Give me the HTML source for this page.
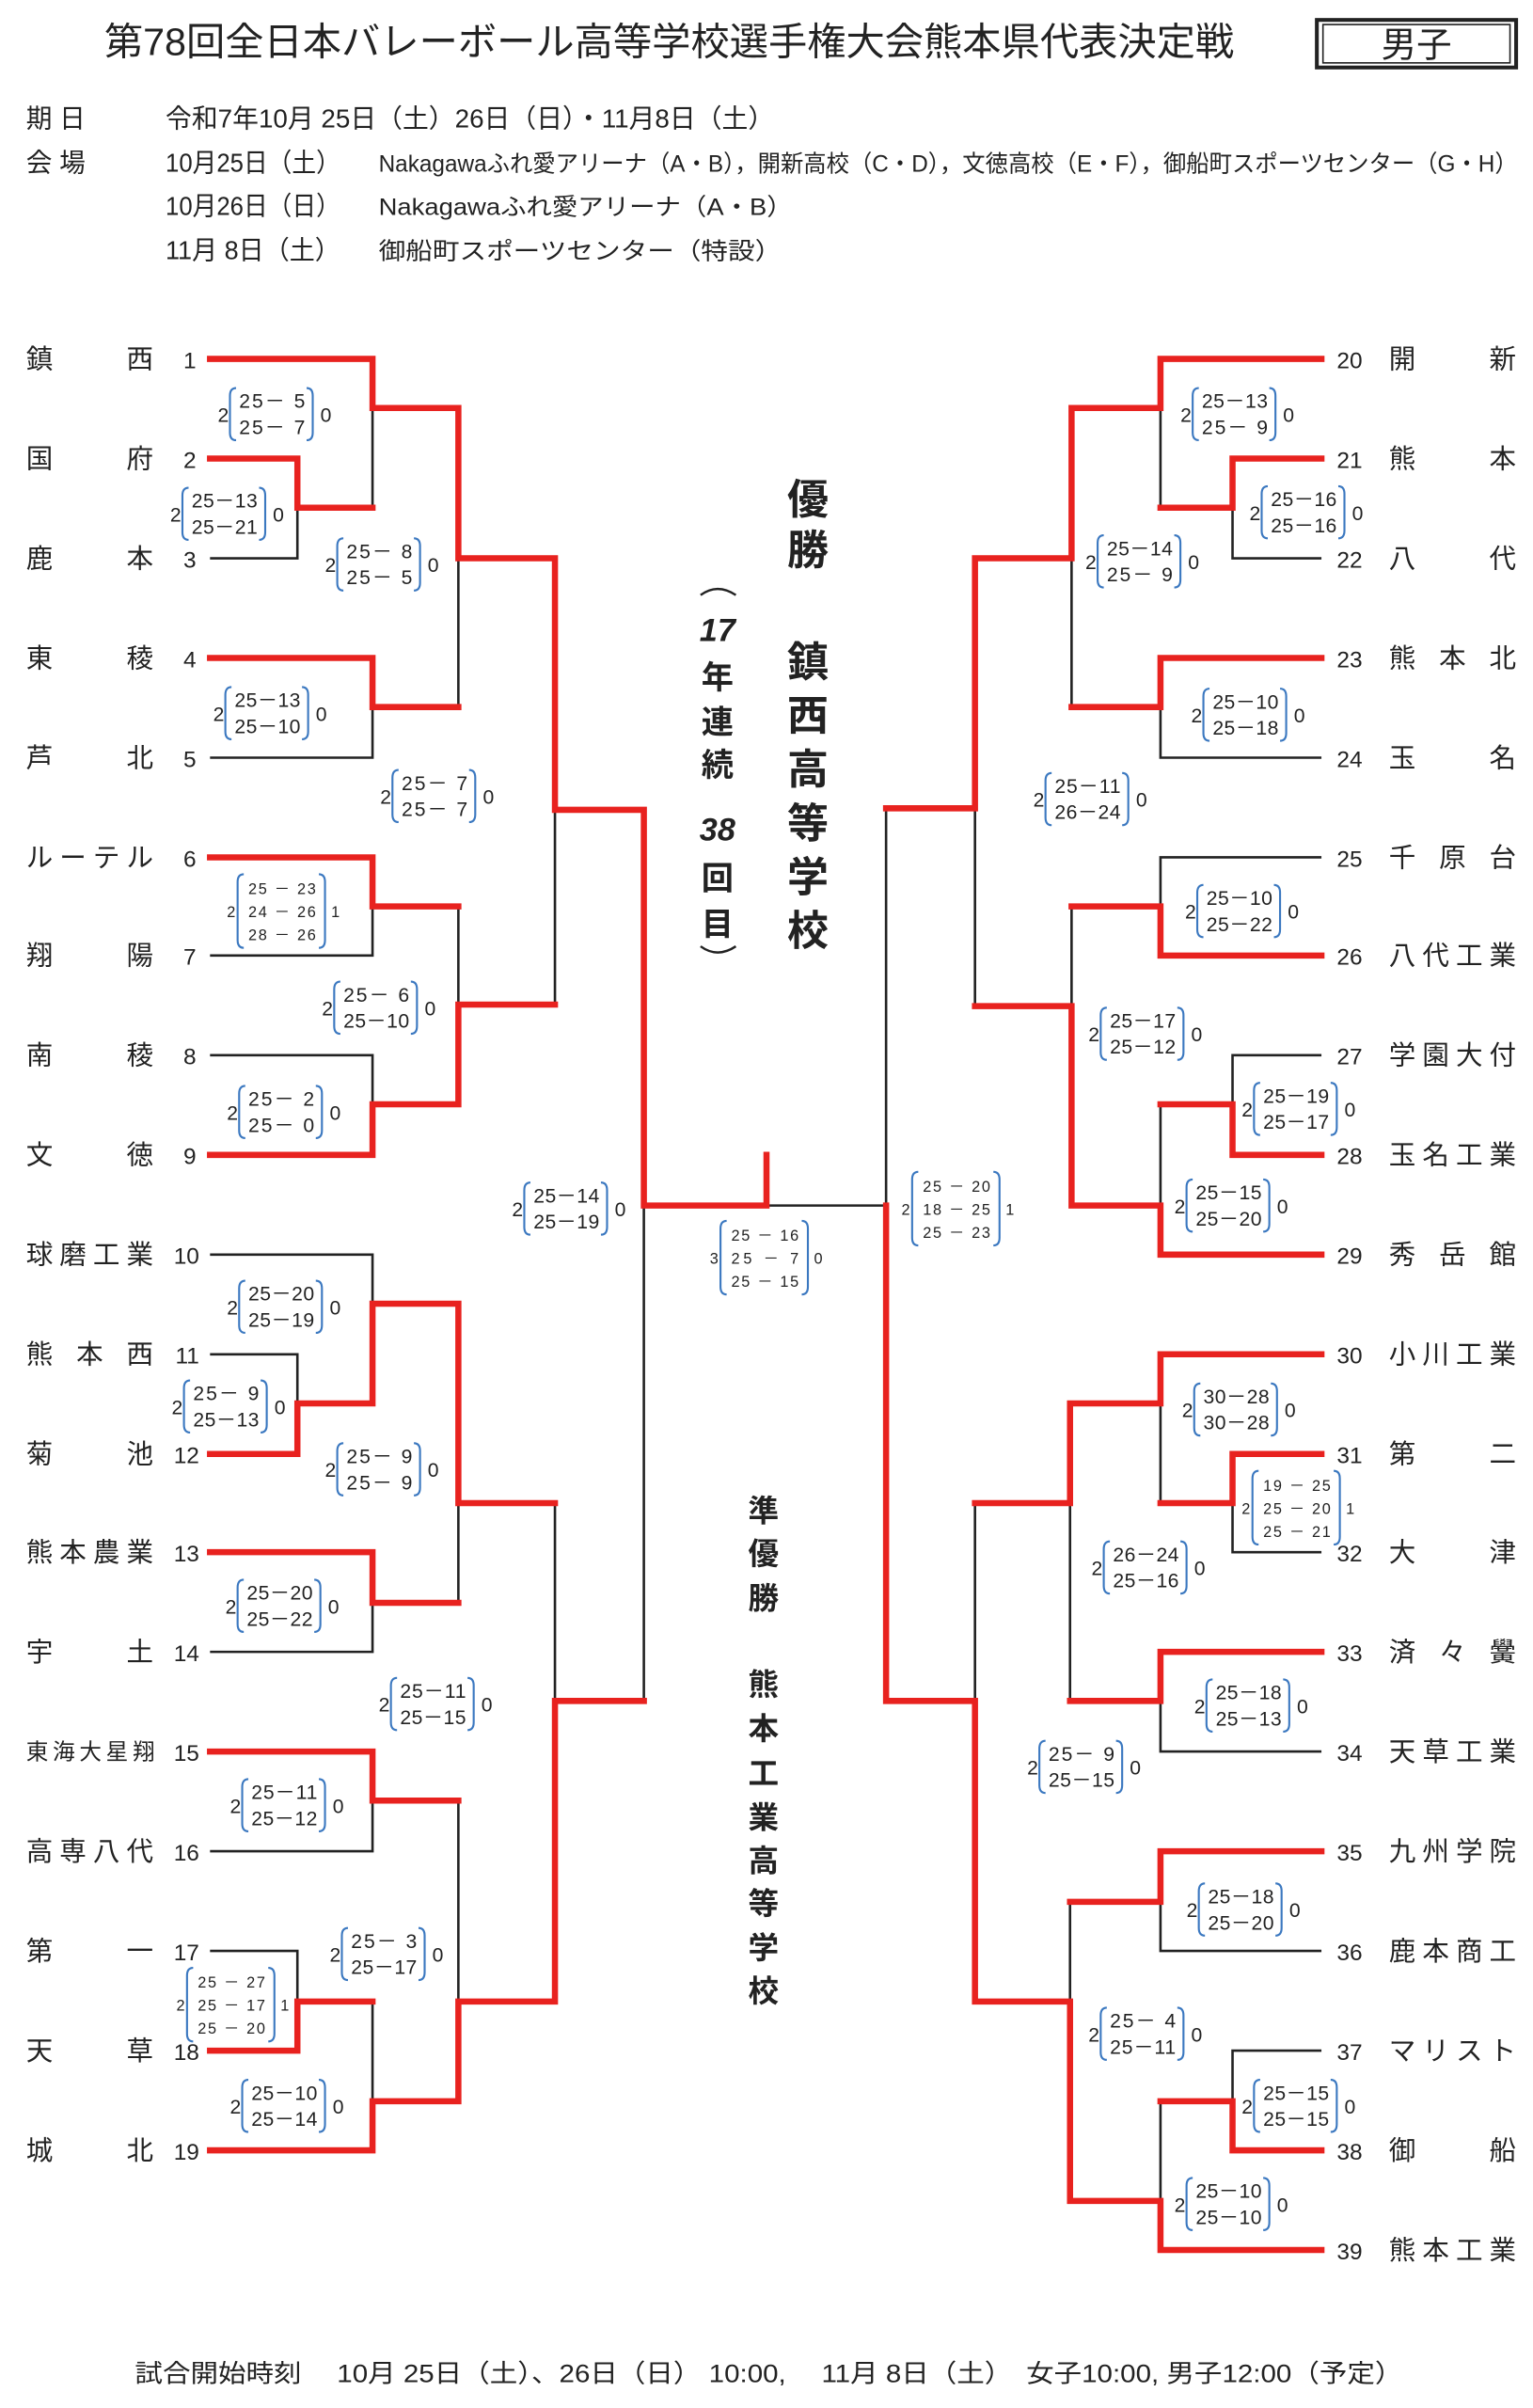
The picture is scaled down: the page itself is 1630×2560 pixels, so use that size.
<!DOCTYPE html>
<html><head><meta charset="utf-8">
<style>
html,body{margin:0;padding:0;background:#fff;}
svg{display:block;}
text{font-family:"Liberation Sans","Noto Sans CJK JP",sans-serif;fill:#222;}
.b{font-family:"Noto Serif CJK SC","Liberation Serif",serif;font-weight:bold;}
.r{fill:none;stroke:#e8221f;stroke-width:4;stroke-linejoin:miter;stroke-linecap:square;}
.k{fill:none;stroke:#222;stroke-width:1.6;}
.br{fill:none;stroke:#3b78c0;stroke-width:1.3;}
.s{font-size:13px;}
.s3{font-size:10px;}
</style></head><body>
<svg width="1630" height="2560" viewBox="0 0 1000 1570" preserveAspectRatio="none" xmlns="http://www.w3.org/2000/svg">
<defs>
<g id="b2"><path class="br" d="M12 -17 Q8 -17 8 -12 V12 Q8 17 12 17"/><path class="br" d="M58 -17 Q62 -17 62 -12 V12 Q62 17 58 17"/></g>
<g id="b3"><path class="br" d="M11 -24 Q7 -24 7 -19 V19 Q7 24 11 24"/><path class="br" d="M60 -24 Q64 -24 64 -19 V19 Q64 24 60 24"/></g>
</defs>
<!-- Title -->
<text x="68" y="36" font-size="25" textLength="737" lengthAdjust="spacingAndGlyphs">第78回全日本バレーボール高等学校選手権大会熊本県代表決定戦</text>
<rect x="859" y="13" width="130" height="31" fill="none" stroke="#222" stroke-width="2.5"/>
<rect x="863" y="16" width="122" height="25" fill="none" stroke="#222" stroke-width="1"/>
<text x="924" y="37" font-size="23" text-anchor="middle">男子</text>
<!-- Info -->
<g font-size="17">
<text x="17" y="83">期 日</text>
<text x="108" y="83" textLength="397" lengthAdjust="spacingAndGlyphs">令和7年10月 25日（土）26日（日）・11月8日（土）</text>
<text x="17" y="112">会 場</text>
<text x="108" y="112" textLength="114" lengthAdjust="spacingAndGlyphs">10月25日（土）</text>
<text x="108" y="140" textLength="114" lengthAdjust="spacingAndGlyphs">10月26日（日）</text>
<text x="108" y="169" textLength="114" lengthAdjust="spacingAndGlyphs">11月 8日（土）</text>
</g>
<g font-size="15.5">
<text x="247" y="112" textLength="743" lengthAdjust="spacingAndGlyphs">Nakagawaふれ愛アリーナ（A・B），開新高校（C・D），文徳高校（E・F），御船町スポーツセンター（G・H）</text>
<text x="247" y="140" textLength="270" lengthAdjust="spacingAndGlyphs">Nakagawaふれ愛アリーナ（A・B）</text>
<text x="247" y="169" textLength="263" lengthAdjust="spacingAndGlyphs">御船町スポーツセンター（特設）</text>
</g>

<!-- Left teams -->
<g font-size="17.5">
<text x="17" y="240" textLength="83" lengthAdjust="spacing">鎮西</text>
<text x="17" y="305" textLength="83" lengthAdjust="spacing">国府</text>
<text x="17" y="370" textLength="83" lengthAdjust="spacing">鹿本</text>
<text x="17" y="435" textLength="83" lengthAdjust="spacing">東稜</text>
<text x="17" y="500" textLength="83" lengthAdjust="spacing">芦北</text>
<text x="17" y="565" textLength="83" lengthAdjust="spacing">ルーテル</text>
<text x="17" y="629" textLength="83" lengthAdjust="spacing">翔陽</text>
<text x="17" y="694" textLength="83" lengthAdjust="spacing">南稜</text>
<text x="17" y="759" textLength="83" lengthAdjust="spacing">文徳</text>
<text x="17" y="824" textLength="83" lengthAdjust="spacing">球磨工業</text>
<text x="17" y="889" textLength="83" lengthAdjust="spacing">熊本西</text>
<text x="17" y="954" textLength="83" lengthAdjust="spacing">菊池</text>
<text x="17" y="1018" textLength="83" lengthAdjust="spacing">熊本農業</text>
<text x="17" y="1083" textLength="83" lengthAdjust="spacing">宇土</text>
<text x="17" y="1147" font-size="14.5" textLength="84" lengthAdjust="spacing">東海大星翔</text>
<text x="17" y="1213" textLength="83" lengthAdjust="spacing">高専八代</text>
<text x="17" y="1278" textLength="83" lengthAdjust="spacing">第一</text>
<text x="17" y="1343" textLength="83" lengthAdjust="spacing">天草</text>
<text x="17" y="1408" textLength="83" lengthAdjust="spacing">城北</text>
</g>
<g font-size="15" text-anchor="end">
<text x="128" y="240">1</text><text x="128" y="305">2</text><text x="128" y="370">3</text><text x="128" y="435">4</text><text x="128" y="500">5</text><text x="128" y="565">6</text><text x="128" y="629">7</text><text x="128" y="694">8</text><text x="128" y="759">9</text><text x="130" y="824">10</text><text x="130" y="889">11</text><text x="130" y="954">12</text><text x="130" y="1018">13</text><text x="130" y="1083">14</text><text x="130" y="1148">15</text><text x="130" y="1213">16</text><text x="130" y="1278">17</text><text x="130" y="1343">18</text><text x="130" y="1408">19</text>
</g>
<!-- Right teams -->
<g font-size="15">
<text x="872" y="240">20</text><text x="872" y="305">21</text><text x="872" y="370">22</text><text x="872" y="435">23</text><text x="872" y="500">24</text><text x="872" y="565">25</text><text x="872" y="629">26</text><text x="872" y="694">27</text><text x="872" y="759">28</text><text x="872" y="824">29</text><text x="872" y="889">30</text><text x="872" y="954">31</text><text x="872" y="1018">32</text><text x="872" y="1083">33</text><text x="872" y="1148">34</text><text x="872" y="1213">35</text><text x="872" y="1278">36</text><text x="872" y="1343">37</text><text x="872" y="1408">38</text><text x="872" y="1473">39</text>
</g>
<g font-size="17.5">
<text x="906" y="240" textLength="83" lengthAdjust="spacing">開新</text>
<text x="906" y="305" textLength="83" lengthAdjust="spacing">熊本</text>
<text x="906" y="370" textLength="83" lengthAdjust="spacing">八代</text>
<text x="906" y="435" textLength="83" lengthAdjust="spacing">熊本北</text>
<text x="906" y="500" textLength="83" lengthAdjust="spacing">玉名</text>
<text x="906" y="565" textLength="83" lengthAdjust="spacing">千原台</text>
<text x="906" y="629" textLength="83" lengthAdjust="spacing">八代工業</text>
<text x="906" y="694" textLength="83" lengthAdjust="spacing">学園大付</text>
<text x="906" y="759" textLength="83" lengthAdjust="spacing">玉名工業</text>
<text x="906" y="824" textLength="83" lengthAdjust="spacing">秀岳館</text>
<text x="906" y="889" textLength="83" lengthAdjust="spacing">小川工業</text>
<text x="906" y="954" textLength="83" lengthAdjust="spacing">第二</text>
<text x="906" y="1018" textLength="83" lengthAdjust="spacing">大津</text>
<text x="906" y="1083" textLength="83" lengthAdjust="spacing">済々黌</text>
<text x="906" y="1148" textLength="83" lengthAdjust="spacing">天草工業</text>
<text x="906" y="1213" textLength="83" lengthAdjust="spacing">九州学院</text>
<text x="906" y="1278" textLength="83" lengthAdjust="spacing">鹿本商工</text>
<text x="906" y="1343" textLength="83" lengthAdjust="spacing">マリスト</text>
<text x="906" y="1408" textLength="83" lengthAdjust="spacing">御船</text>
<text x="906" y="1473" textLength="83" lengthAdjust="spacing">熊本工業</text>
</g>

<!-- Black lines -->
<path class="k" d="M243 266 V331 M137 364 H194 V331 M137 494 H243 V461 M299 364 V461 M137 623 H243 V591 M299 591 V655 M137 688 H243 V720 M362 528 V655 M420 786 V1109 M137 818 H243 V850 M137 883 H194 V915 M299 980 V1045 M137 1077 H243 V1045 M137 1207 H243 V1174 M299 1174 V1305 M137 1272 H194 V1305 M243 1305 V1370 M362 980 V1109 M500 786 H578"/>
<path class="k" d="M757 266 V331 M862 364 H804 V331 M699 364 V461 M862 494 H757 V461 M636 527 V656 M578 527 V786 M862 559 H757 V591 M699 591 V656 M862 688 H804 V720 M757 720 V786 M757 915 V980 M862 1012 H804 V980 M698 980 V1109 M862 1142 H757 V1109 M636 980 V1109 M862 1272 H757 V1240 M698 1240 V1305 M862 1337 H804 V1370 M757 1370 V1435"/>
<!-- Red lines -->
<path class="r" d="M137 234 H243 V266 H299 V364 H362 V528 H420 V786 H500 V753
M137 299 H194 V331 H243
M137 429 H243 V461 H299
M137 559 H243 V591 H299
M137 753 H243 V720 H299 V655 H362
M137 948 H194 V915 H243 V850 H299 V980 H362
M137 1012 H243 V1045 H299
M137 1142 H243 V1174 H299
M137 1337 H194 V1305 H243
M137 1402 H243 V1370 H299 V1305 H362 V1109 H420"/>
<path class="r" d="M862 234 H757 V266 H699 V364 H636 V527 H578
M862 299 H804 V331 H757
M862 429 H757 V461 H699
M862 623 H757 V591 H699
M862 753 H804 V720 H757
M862 818 H757 V786 H699 V656 H636
M578 786 V1109 H636 V1305 H698 V1435 H757 V1467 H862
M862 883 H757 V915 H698 V980 H636
M862 948 H804 V980 H757
M862 1077 H757 V1109 H698
M862 1207 H757 V1240 H698
M862 1402 H804 V1370 H757"/>

<!-- 2-row score blocks -->
<g class="s">
<g transform="translate(142,270)"><text x="0" y="5">2</text><use href="#b2"/><text x="14" y="-4" textLength="43" lengthAdjust="spacing">25－ 5</text><text x="14" y="13" textLength="43" lengthAdjust="spacing">25－ 7</text><text x="67" y="5">0</text></g>
<g transform="translate(111,335)"><text x="0" y="5">2</text><use href="#b2"/><text x="14" y="-4" textLength="43" lengthAdjust="spacing">25－13</text><text x="14" y="13" textLength="43" lengthAdjust="spacing">25－21</text><text x="67" y="5">0</text></g>
<g transform="translate(212,368)"><text x="0" y="5">2</text><use href="#b2"/><text x="14" y="-4" textLength="43" lengthAdjust="spacing">25－ 8</text><text x="14" y="13" textLength="43" lengthAdjust="spacing">25－ 5</text><text x="67" y="5">0</text></g>
<g transform="translate(139,465)"><text x="0" y="5">2</text><use href="#b2"/><text x="14" y="-4" textLength="43" lengthAdjust="spacing">25－13</text><text x="14" y="13" textLength="43" lengthAdjust="spacing">25－10</text><text x="67" y="5">0</text></g>
<g transform="translate(248,519)"><text x="0" y="5">2</text><use href="#b2"/><text x="14" y="-4" textLength="43" lengthAdjust="spacing">25－ 7</text><text x="14" y="13" textLength="43" lengthAdjust="spacing">25－ 7</text><text x="67" y="5">0</text></g>
<g transform="translate(210,657)"><text x="0" y="5">2</text><use href="#b2"/><text x="14" y="-4" textLength="43" lengthAdjust="spacing">25－ 6</text><text x="14" y="13" textLength="43" lengthAdjust="spacing">25－10</text><text x="67" y="5">0</text></g>
<g transform="translate(148,725)"><text x="0" y="5">2</text><use href="#b2"/><text x="14" y="-4" textLength="43" lengthAdjust="spacing">25－ 2</text><text x="14" y="13" textLength="43" lengthAdjust="spacing">25－ 0</text><text x="67" y="5">0</text></g>
<g transform="translate(334,788)"><text x="0" y="5">2</text><use href="#b2"/><text x="14" y="-4" textLength="43" lengthAdjust="spacing">25－14</text><text x="14" y="13" textLength="43" lengthAdjust="spacing">25－19</text><text x="67" y="5">0</text></g>
<g transform="translate(148,852)"><text x="0" y="5">2</text><use href="#b2"/><text x="14" y="-4" textLength="43" lengthAdjust="spacing">25－20</text><text x="14" y="13" textLength="43" lengthAdjust="spacing">25－19</text><text x="67" y="5">0</text></g>
<g transform="translate(112,917)"><text x="0" y="5">2</text><use href="#b2"/><text x="14" y="-4" textLength="43" lengthAdjust="spacing">25－ 9</text><text x="14" y="13" textLength="43" lengthAdjust="spacing">25－13</text><text x="67" y="5">0</text></g>
<g transform="translate(212,958)"><text x="0" y="5">2</text><use href="#b2"/><text x="14" y="-4" textLength="43" lengthAdjust="spacing">25－ 9</text><text x="14" y="13" textLength="43" lengthAdjust="spacing">25－ 9</text><text x="67" y="5">0</text></g>
<g transform="translate(147,1047)"><text x="0" y="5">2</text><use href="#b2"/><text x="14" y="-4" textLength="43" lengthAdjust="spacing">25－20</text><text x="14" y="13" textLength="43" lengthAdjust="spacing">25－22</text><text x="67" y="5">0</text></g>
<g transform="translate(247,1111)"><text x="0" y="5">2</text><use href="#b2"/><text x="14" y="-4" textLength="43" lengthAdjust="spacing">25－11</text><text x="14" y="13" textLength="43" lengthAdjust="spacing">25－15</text><text x="67" y="5">0</text></g>
<g transform="translate(150,1177)"><text x="0" y="5">2</text><use href="#b2"/><text x="14" y="-4" textLength="43" lengthAdjust="spacing">25－11</text><text x="14" y="13" textLength="43" lengthAdjust="spacing">25－12</text><text x="67" y="5">0</text></g>
<g transform="translate(215,1274)"><text x="0" y="5">2</text><use href="#b2"/><text x="14" y="-4" textLength="43" lengthAdjust="spacing">25－ 3</text><text x="14" y="13" textLength="43" lengthAdjust="spacing">25－17</text><text x="67" y="5">0</text></g>
<g transform="translate(150,1373)"><text x="0" y="5">2</text><use href="#b2"/><text x="14" y="-4" textLength="43" lengthAdjust="spacing">25－10</text><text x="14" y="13" textLength="43" lengthAdjust="spacing">25－14</text><text x="67" y="5">0</text></g>
<g transform="translate(770,270)"><text x="0" y="5">2</text><use href="#b2"/><text x="14" y="-4" textLength="43" lengthAdjust="spacing">25－13</text><text x="14" y="13" textLength="43" lengthAdjust="spacing">25－ 9</text><text x="67" y="5">0</text></g>
<g transform="translate(815,334)"><text x="0" y="5">2</text><use href="#b2"/><text x="14" y="-4" textLength="43" lengthAdjust="spacing">25－16</text><text x="14" y="13" textLength="43" lengthAdjust="spacing">25－16</text><text x="67" y="5">0</text></g>
<g transform="translate(708,366)"><text x="0" y="5">2</text><use href="#b2"/><text x="14" y="-4" textLength="43" lengthAdjust="spacing">25－14</text><text x="14" y="13" textLength="43" lengthAdjust="spacing">25－ 9</text><text x="67" y="5">0</text></g>
<g transform="translate(777,466)"><text x="0" y="5">2</text><use href="#b2"/><text x="14" y="-4" textLength="43" lengthAdjust="spacing">25－10</text><text x="14" y="13" textLength="43" lengthAdjust="spacing">25－18</text><text x="67" y="5">0</text></g>
<g transform="translate(674,521)"><text x="0" y="5">2</text><use href="#b2"/><text x="14" y="-4" textLength="43" lengthAdjust="spacing">25－11</text><text x="14" y="13" textLength="43" lengthAdjust="spacing">26－24</text><text x="67" y="5">0</text></g>
<g transform="translate(773,594)"><text x="0" y="5">2</text><use href="#b2"/><text x="14" y="-4" textLength="43" lengthAdjust="spacing">25－10</text><text x="14" y="13" textLength="43" lengthAdjust="spacing">25－22</text><text x="67" y="5">0</text></g>
<g transform="translate(710,674)"><text x="0" y="5">2</text><use href="#b2"/><text x="14" y="-4" textLength="43" lengthAdjust="spacing">25－17</text><text x="14" y="13" textLength="43" lengthAdjust="spacing">25－12</text><text x="67" y="5">0</text></g>
<g transform="translate(810,723)"><text x="0" y="5">2</text><use href="#b2"/><text x="14" y="-4" textLength="43" lengthAdjust="spacing">25－19</text><text x="14" y="13" textLength="43" lengthAdjust="spacing">25－17</text><text x="67" y="5">0</text></g>
<g transform="translate(766,786)"><text x="0" y="5">2</text><use href="#b2"/><text x="14" y="-4" textLength="43" lengthAdjust="spacing">25－15</text><text x="14" y="13" textLength="43" lengthAdjust="spacing">25－20</text><text x="67" y="5">0</text></g>
<g transform="translate(771,919)"><text x="0" y="5">2</text><use href="#b2"/><text x="14" y="-4" textLength="43" lengthAdjust="spacing">30－28</text><text x="14" y="13" textLength="43" lengthAdjust="spacing">30－28</text><text x="67" y="5">0</text></g>
<g transform="translate(712,1022)"><text x="0" y="5">2</text><use href="#b2"/><text x="14" y="-4" textLength="43" lengthAdjust="spacing">26－24</text><text x="14" y="13" textLength="43" lengthAdjust="spacing">25－16</text><text x="67" y="5">0</text></g>
<g transform="translate(779,1112)"><text x="0" y="5">2</text><use href="#b2"/><text x="14" y="-4" textLength="43" lengthAdjust="spacing">25－18</text><text x="14" y="13" textLength="43" lengthAdjust="spacing">25－13</text><text x="67" y="5">0</text></g>
<g transform="translate(670,1152)"><text x="0" y="5">2</text><use href="#b2"/><text x="14" y="-4" textLength="43" lengthAdjust="spacing">25－ 9</text><text x="14" y="13" textLength="43" lengthAdjust="spacing">25－15</text><text x="67" y="5">0</text></g>
<g transform="translate(774,1245)"><text x="0" y="5">2</text><use href="#b2"/><text x="14" y="-4" textLength="43" lengthAdjust="spacing">25－18</text><text x="14" y="13" textLength="43" lengthAdjust="spacing">25－20</text><text x="67" y="5">0</text></g>
<g transform="translate(710,1326)"><text x="0" y="5">2</text><use href="#b2"/><text x="14" y="-4" textLength="43" lengthAdjust="spacing">25－ 4</text><text x="14" y="13" textLength="43" lengthAdjust="spacing">25－11</text><text x="67" y="5">0</text></g>
<g transform="translate(810,1373)"><text x="0" y="5">2</text><use href="#b2"/><text x="14" y="-4" textLength="43" lengthAdjust="spacing">25－15</text><text x="14" y="13" textLength="43" lengthAdjust="spacing">25－15</text><text x="67" y="5">0</text></g>
<g transform="translate(766,1437)"><text x="0" y="5">2</text><use href="#b2"/><text x="14" y="-4" textLength="43" lengthAdjust="spacing">25－10</text><text x="14" y="13" textLength="43" lengthAdjust="spacing">25－10</text><text x="67" y="5">0</text></g>
</g>
<!-- 3-row score blocks -->
<g class="s3">
<g transform="translate(148,594)"><text x="0" y="4">2</text><use href="#b3"/><text x="14" y="-11" textLength="44" lengthAdjust="spacing">25 － 23</text><text x="14" y="4" textLength="44" lengthAdjust="spacing">24 － 26</text><text x="14" y="19" textLength="44" lengthAdjust="spacing">28 － 26</text><text x="68" y="4">1</text></g>
<g transform="translate(115,1307)"><text x="0" y="4">2</text><use href="#b3"/><text x="14" y="-11" textLength="44" lengthAdjust="spacing">25 － 27</text><text x="14" y="4" textLength="44" lengthAdjust="spacing">25 － 17</text><text x="14" y="19" textLength="44" lengthAdjust="spacing">25 － 20</text><text x="68" y="4">1</text></g>
<g transform="translate(463,820)"><text x="0" y="4">3</text><use href="#b3"/><text x="14" y="-11" textLength="44" lengthAdjust="spacing">25 － 16</text><text x="14" y="4" textLength="44" lengthAdjust="spacing">25 －  7</text><text x="14" y="19" textLength="44" lengthAdjust="spacing">25 － 15</text><text x="68" y="4">0</text></g>
<g transform="translate(588,788)"><text x="0" y="4">2</text><use href="#b3"/><text x="14" y="-11" textLength="44" lengthAdjust="spacing">25 － 20</text><text x="14" y="4" textLength="44" lengthAdjust="spacing">18 － 25</text><text x="14" y="19" textLength="44" lengthAdjust="spacing">25 － 23</text><text x="68" y="4">1</text></g>
<g transform="translate(810,983)"><text x="0" y="4">2</text><use href="#b3"/><text x="14" y="-11" textLength="44" lengthAdjust="spacing">19 － 25</text><text x="14" y="4" textLength="44" lengthAdjust="spacing">25 － 20</text><text x="14" y="19" textLength="44" lengthAdjust="spacing">25 － 21</text><text x="68" y="4">1</text></g>
</g>

<!-- Center vertical texts -->
<g class="b" font-size="27" text-anchor="middle">
<text x="527" y="335">優</text><text x="527" y="368">勝</text>
<text x="527" y="441">鎮</text><text x="527" y="476">西</text><text x="527" y="511">高</text><text x="527" y="546">等</text><text x="527" y="581">学</text><text x="527" y="616">校</text>
</g>
<g class="b" font-size="21" text-anchor="middle">
<text x="468" y="418" font-style="italic">17</text><text x="468" y="449">年</text><text x="468" y="478">連</text><text x="468" y="506">続</text><text x="468" y="548" font-style="italic">38</text><text x="468" y="580">回</text><text x="468" y="610">目</text>
</g>
<path d="M457 388 Q468 380 480 388" fill="none" stroke="#222" stroke-width="1.5"/>
<path d="M457 617 Q468 625 480 617" fill="none" stroke="#222" stroke-width="1.5"/>
<g class="b" font-size="20" text-anchor="middle">
<text x="498" y="992">準</text><text x="498" y="1020">優</text><text x="498" y="1049">勝</text>
<text x="498" y="1105">熊</text><text x="498" y="1134">本</text><text x="498" y="1163">工</text><text x="498" y="1192">業</text><text x="498" y="1220">高</text><text x="498" y="1248">等</text><text x="498" y="1277">学</text><text x="498" y="1305">校</text>
</g>

<!-- Footer -->
<text x="88" y="1553" font-size="16.5" textLength="827" lengthAdjust="spacingAndGlyphs">試合開始時刻　 10月 25日（土）、26日（日） 10:00,　 11月 8日（土）　女子10:00, 男子12:00（予定）</text>
</svg>
</body></html>
